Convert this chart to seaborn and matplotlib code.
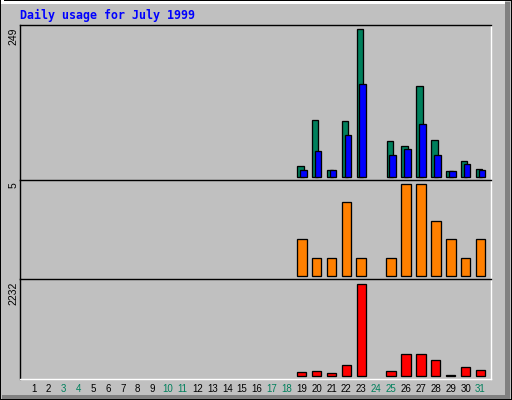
import matplotlib
matplotlib.use("Agg")
import matplotlib.pyplot as plt
from matplotlib.patches import Rectangle
from matplotlib.lines import Line2D
import seaborn as sns
import pandas as pd

# ---------------- data ----------------
title = "Daily usage for July 1999"
days_all = list(range(1, 32))
weekend_days = [3, 4, 10, 11, 17, 18, 24, 25, 31]

days = [19, 20, 21, 22, 23, 25, 26, 27, 28, 29, 30, 31]
hits = [18, 96, 11, 94, 249, 60, 52, 153, 62, 10, 27, 13]
files = [11, 43, 11, 70, 157, 37, 47, 89, 37, 10, 21, 11]
sites = [2, 1, 1, 4, 1, 1, 5, 5, 3, 2, 1, 2]
kbytes = [89, 114, 66, 260, 2232, 114, 528, 528, 382, 8, 212, 139]

max_labels = ["249", "5", "2232"]

# ---------------- style ----------------
BG = "#C0C0C0"
C_HITS = "#00805C"
C_FILES = "#0000FF"
C_SITES = "#FF8000"
C_KB = "#FF0000"
C_WEEKEND = "#00805C"
W, H = 512, 400
LW = 0.72  # 1 px

fig = plt.figure(figsize=(W / 100, H / 100), dpi=100, facecolor=BG)


def fx(px):
    return px / W


def fy(py):
    return 1 - py / H


def add_axes_px(left, top, right, bottom):
    return fig.add_axes([fx(left), fy(bottom), fx(right) - fx(left), (bottom - top) / H])


# outer bevel frame
fig.add_artist(Rectangle((0, 0), 1, 1, transform=fig.transFigure, fill=False,
                         edgecolor="black", linewidth=2 * LW))
fig.add_artist(Rectangle((fx(1), fy(4)), fx(3), fy(1) - fy(395), transform=fig.transFigure,
                         facecolor="white", edgecolor="none"))
fig.add_artist(Rectangle((fx(1), fy(4)), fx(505) - fx(1), fy(1) - fy(4), transform=fig.transFigure,
                         facecolor="white", edgecolor="none"))
fig.add_artist(Rectangle((fx(505), fy(399)), fx(5), fy(2) - fy(399), transform=fig.transFigure,
                         facecolor="#808080", edgecolor="none"))
fig.add_artist(Rectangle((fx(2), fy(399)), fx(508) - fx(2), fy(395) - fy(399), transform=fig.transFigure,
                         facecolor="#808080", edgecolor="none"))

L, R = 20, 491
panels = [(25, 180), (180, 279), (279, 379)]
axes = [add_axes_px(L, t, R, b) for t, b in panels]

x_first, x_step = 33.5, 14.9
xlo = 1 - (x_first - L) / x_step
xhi = 1 + (R - x_first) / x_step


def setup(ax, top, bottom, maxv, base_px, top_px):
    ax.set_facecolor(BG)
    h = bottom - top
    s = maxv / (h - base_px - top_px)
    ax.set_ylim(-base_px * s, maxv + top_px * s)
    ax.set_xlim(xlo, xhi)
    for side in ["top", "left"]:
        ax.spines[side].set_color("black")
        ax.spines[side].set_linewidth(LW * 1.4)
    for side in ["right", "bottom"]:
        ax.spines[side].set_color("white")
        ax.spines[side].set_linewidth(LW * 1.4)
    ax.set_yticks([])
    ax.set_xlabel("")
    ax.set_ylabel("")


df = pd.DataFrame({"day": days, "hits": hits, "files": files, "sites": sites, "kbytes": kbytes})
df["x_hits"] = df["day"] - 0.09
df["x_files"] = df["day"] + 0.10

ax0, ax1, ax2 = axes
sns.barplot(data=df, x="x_hits", y="hits", native_scale=True, width=0.43, color=C_HITS,
            saturation=1, edgecolor="black", linewidth=LW * 1.3, errorbar=None, ax=ax0)
sns.barplot(data=df, x="x_files", y="files", native_scale=True, width=0.45, color=C_FILES,
            saturation=1, edgecolor="black", linewidth=LW * 1.3, errorbar=None, ax=ax0)
sns.barplot(data=df, x="day", y="sites", native_scale=True, width=0.65, color=C_SITES,
            saturation=1, edgecolor="black", linewidth=LW * 1.3, errorbar=None, ax=ax1)
sns.barplot(data=df, x="day", y="kbytes", native_scale=True, width=0.63, color=C_KB,
            saturation=1, edgecolor="black", linewidth=LW * 1.3, errorbar=None, ax=ax2)

setup(ax0, 25, 180, max(hits), 3.3, 4.3)
setup(ax1, 180, 279, max(sites), 2.7, 4.0)
setup(ax2, 279, 379, max(kbytes), 3.3, 5.0)

for ax in (ax0, ax1):
    ax.spines["bottom"].set_visible(False)
    ax.set_xticks([])

ax2.set_xticks(days_all)
ax2.set_xticklabels([str(d) for d in days_all], fontfamily="Liberation Sans", fontsize=7)
ax2.tick_params(axis="x", length=0, pad=3.5)
for lbl, d in zip(ax2.get_xticklabels(), days_all):
    lbl.set_color(C_WEEKEND if d in weekend_days else "black")

# title
fig.text(fx(20), fy(15), title, color="#0000FF", fontfamily="DejaVu Sans Mono",
         fontweight="bold", fontsize=8.4, ha="left", va="center")

# max labels
for (t, b), lab in zip(panels, max_labels):
    fig.text(fx(13.3), fy(t + 2.5), lab, rotation=90, ha="center", va="top",
             fontfamily="Liberation Sans", fontsize=7.5, color="black")

fig.savefig("out.png", dpi=100, facecolor=BG)
